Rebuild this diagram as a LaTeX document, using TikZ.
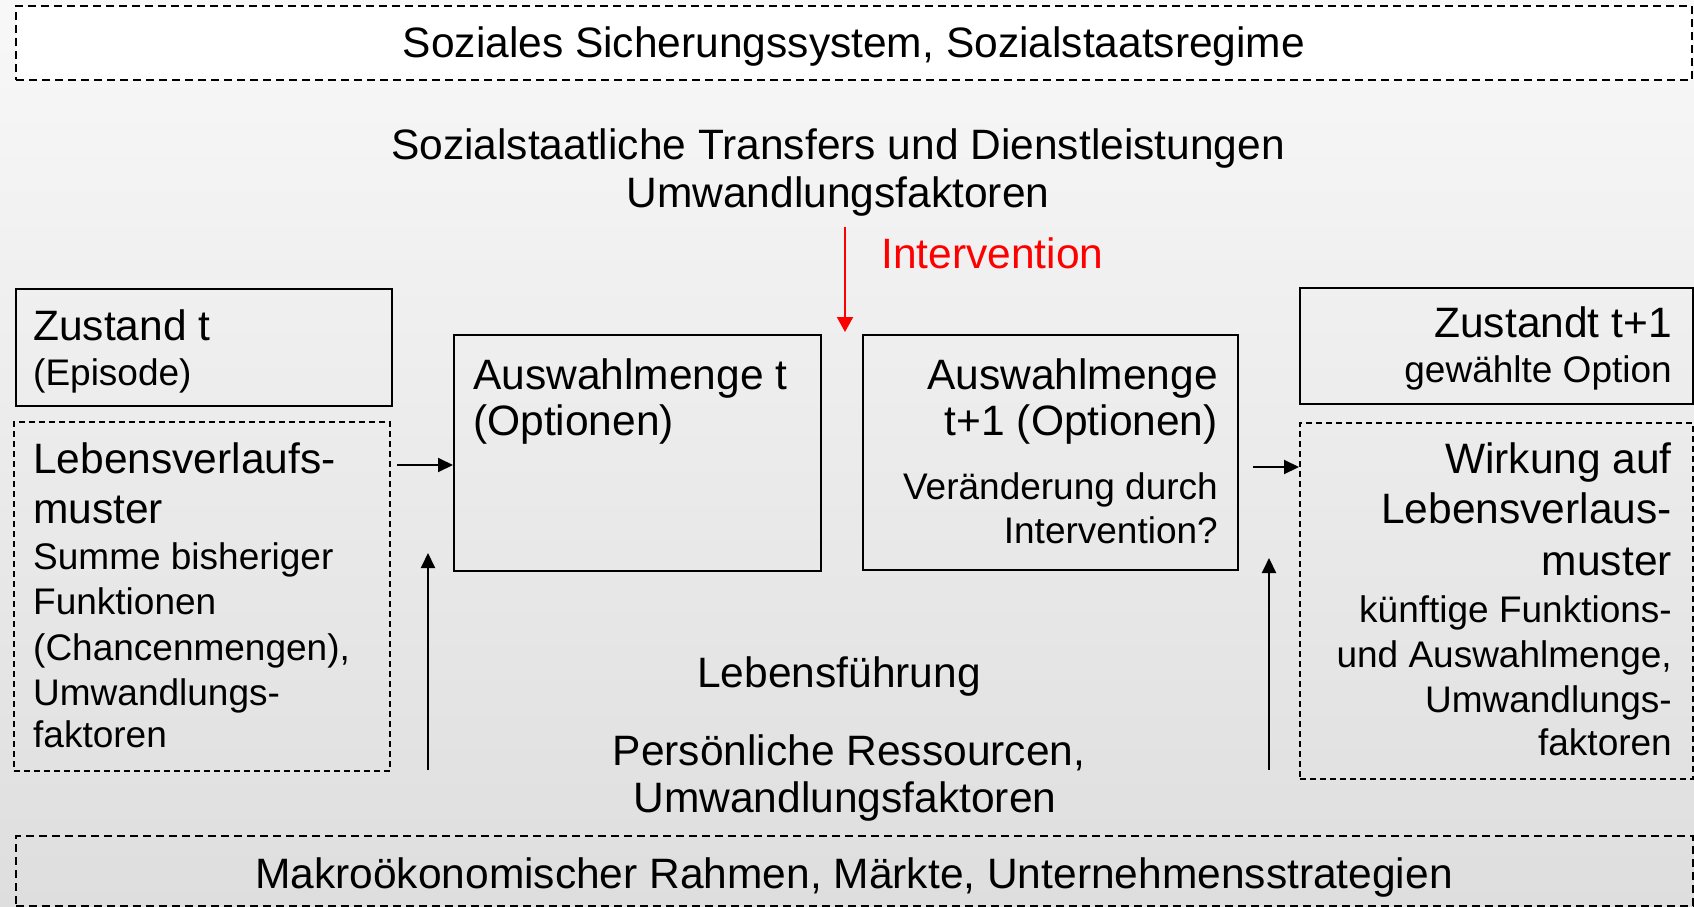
\documentclass[tikz,border=0pt]{standalone}
\usepackage{fontspec}
\setmainfont{Liberation Sans}
\usetikzlibrary{arrows.meta}
\definecolor{bgtop}{RGB}{248,248,248}
\definecolor{bgbot}{RGB}{222,222,222}
\definecolor{ired}{RGB}{255,0,0}
\newcommand{\bigf}{\fontsize{42.5}{50}\selectfont}
\newcommand{\smallf}{\fontsize{37}{44}\selectfont}
\tikzset{
  box/.style={draw=black, line width=2pt, inner sep=0pt, anchor=north west},
  solidbox/.style={box},
  dashbox/.style={box, dash pattern=on 6pt off 4pt},
  widebox/.style={box, dash pattern=on 8pt off 5pt},
  bigtxt/.style={font=\bigf, inner sep=0pt},
  smalltxt/.style={font=\smallf, inner sep=0pt},
  arr/.style={line width=2pt, -{Triangle[length=15pt,width=14pt]}},
  redarr/.style={draw=ired, line width=2pt, -{Triangle[length=15pt,width=16pt]}}
}
\begin{document}
\begin{tikzpicture}[x=1pt,y=-1pt]
\useasboundingbox (0,0) rectangle (1694,907);
\shade[top color=bgtop, bottom color=bgbot] (0,0) rectangle (1694,907);

% top frame
\node[widebox, fill=white, minimum width=1676, minimum height=74] (soz) at (15,5) {};
\node[bigtxt, anchor=base] (soztxt) at (854,58) {Soziales Sicherungssystem, Sozialstaatsregime};

% transfers
\node[bigtxt, anchor=base] (tr1) at (838,159) {Sozialstaatliche Transfers und Dienstleistungen};
\node[bigtxt, anchor=base] (tr2) at (838,207) {Umwandlungsfaktoren};

% intervention
\node[bigtxt, anchor=base west, text=ired] (int) at (881,268) {Intervention};
\coordinate (ra) at (845,227);
\coordinate (rb) at (845,332);
\draw[redarr] (ra) -- (rb);

% Zustand t
\node[solidbox, minimum width=376, minimum height=117] (zt) at (15,288) {};
\node[bigtxt, anchor=base west] (zt1) at (33,340) {Zustand t};
\node[smalltxt, anchor=base west] (zt2) at (33,385) {(Episode)};

% Lebensverlaufsmuster
\node[dashbox, minimum width=376, minimum height=349] (lv) at (13,421) {};
\node[bigtxt, anchor=base west] (lv1) at (33,473) {Lebensverlaufs-};
\node[bigtxt, anchor=base west] (lv2) at (33,523) {muster};
\node[smalltxt, anchor=base west] (lv3) at (33,569) {Summe bisheriger};
\node[smalltxt, anchor=base west] (lv4) at (33,614) {Funktionen};
\node[smalltxt, anchor=base west] (lv5) at (33,660) {(Chancenmengen),};
\node[smalltxt, anchor=base west] (lv6) at (33,705) {Umwandlungs-};
\node[smalltxt, anchor=base west] (lv7) at (33,747) {faktoren};

% Auswahlmenge t
\node[solidbox, minimum width=367, minimum height=236] (aw) at (453,334) {};
\node[bigtxt, anchor=base west] (aw1) at (473,389) {Auswahlmenge t};
\node[bigtxt, anchor=base west] (aw2) at (473,435) {(Optionen)};

% Auswahlmenge t+1
\node[solidbox, minimum width=375, minimum height=235] (aw1b) at (862,334) {};
\node[bigtxt, anchor=base east] (ax1) at (1218,389) {Auswahlmenge};
\node[bigtxt, anchor=base east] (ax2) at (1218,435) {t+1 (Optionen)};
\node[smalltxt, anchor=base east] (ax3) at (1218,499) {Veränderung durch};
\node[smalltxt, anchor=base east] (ax4) at (1218,543) {Intervention?};

% Zustandt t+1
\node[solidbox, minimum width=393, minimum height=116] (zt1b) at (1299,287) {};
\node[bigtxt, anchor=base east] (zz1) at (1672,337) {Zustandt t+1};
\node[smalltxt, anchor=base east] (zz2) at (1672,382) {gewählte Option};

% Wirkung
\node[dashbox, minimum width=393, minimum height=356] (wk) at (1299,422) {};
\node[bigtxt, anchor=base east] (wk1) at (1672,473) {Wirkung auf};
\node[bigtxt, anchor=base east] (wk2) at (1672,523) {Lebensverlaus-};
\node[bigtxt, anchor=base east] (wk3) at (1672,575) {muster};
\node[smalltxt, anchor=base east] (wk4) at (1672,622) {künftige Funktions-};
\node[smalltxt, anchor=base east] (wk5) at (1672,667) {und Auswahlmenge,};
\node[smalltxt, anchor=base east] (wk6) at (1672,712) {Umwandlungs-};
\node[smalltxt, anchor=base east] (wk7) at (1672,755) {faktoren};

% horizontal arrows
\coordinate (h1) at (397,465);
\draw[arr] (h1) -- (aw.west |- h1);
\coordinate (h2) at (1253,467);
\draw[arr] (h2) -- (wk.west |- h2);

% vertical arrows
\coordinate (v1a) at (428,770);
\coordinate (v1b) at (428,553);
\draw[arr] (v1a) -- (v1b);
\coordinate (v2a) at (1269,770);
\coordinate (v2b) at (1269,558);
\draw[arr] (v2a) -- (v2b);

% middle texts
\node[bigtxt, anchor=base] (lf) at (839,687) {Lebensführung};
\node[bigtxt, anchor=base] (pr1) at (849,765) {Persönliche Ressourcen,};
\node[bigtxt, anchor=base] (pr2) at (845,812) {Umwandlungsfaktoren};

% bottom frame
\node[widebox, minimum width=1677, minimum height=70] (mak) at (15,835) {};
\node[bigtxt, anchor=base] (maktxt) at (854,888) {Makroökonomischer Rahmen, Märkte, Unternehmensstrategien};
\end{tikzpicture}
\end{document}
